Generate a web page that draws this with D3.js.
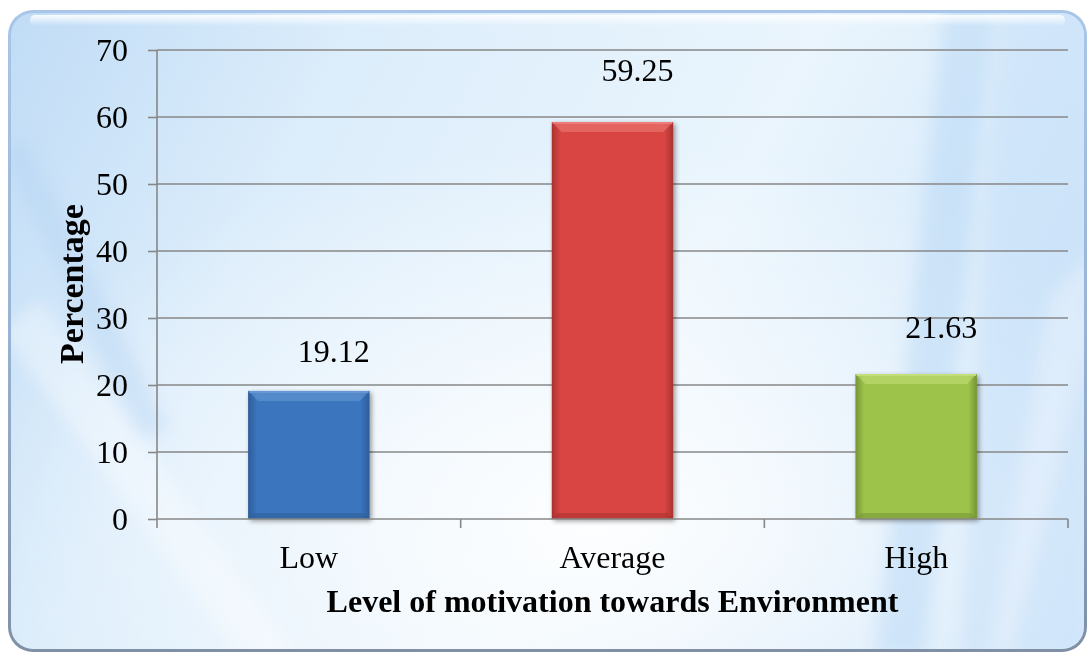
<!DOCTYPE html>
<html>
<head>
<meta charset="utf-8">
<script src="https://cdn.jsdelivr.net/npm/d3@7/dist/d3.min.js"></script>
<style>
  html, body { margin: 0; padding: 0; background: #ffffff; }
  svg { display: block; }
  text { font-family: "Liberation Serif", "Times New Roman", serif; fill: #000; }
</style>
</head>
<body>
<svg id="chart" width="1092" height="657"></svg>
<script>
// Motivation levels and their share of respondents (%)
const categories = ["Low", "Average", "High"];
const percentages = [19.12, 59.25, 21.63];
const yTicks = [0, 10, 20, 30, 40, 50, 60, 70];
const xTitle = "Level of motivation towards Environment";
const yTitle = "Percentage";

// Bar palettes: [edge, body, highlight]
const barColors = [
  ["#2d5c98", "#3a74bd", "#6a9ad6"],
  ["#a83230", "#d84442", "#ef7e7a"],
  ["#759334", "#9ec34b", "#c4e07c"]
];
// small per-label vertical nudges (px) for value labels
const labelNudge = [7, -5, 0];

const W = 1092, H = 657;
const margin = { top: 50, right: 24, bottom: 138, left: 157 };
const FS = 32;
const svg = d3.select("#chart");
const defs = svg.append("defs");

// ---------- background panel ----------
const frameG = defs.append("linearGradient").attr("id", "frame").attr("x1", 0).attr("y1", 0).attr("x2", 0).attr("y2", 1);
frameG.append("stop").attr("offset", 0).attr("stop-color", "#a9c6e8");
frameG.append("stop").attr("offset", 0.5).attr("stop-color", "#98b3d4");
frameG.append("stop").attr("offset", 1).attr("stop-color", "#7f8fa6");

const bgG = defs.append("linearGradient").attr("id", "bg").attr("x1", 0).attr("y1", 0).attr("x2", 1).attr("y2", 0.3);
bgG.append("stop").attr("offset", 0).attr("stop-color", "#c0dcf6");
bgG.append("stop").attr("offset", 0.3).attr("stop-color", "#dcedfb");
bgG.append("stop").attr("offset", 0.7).attr("stop-color", "#eaf5fd");
bgG.append("stop").attr("offset", 1).attr("stop-color", "#d3e8fa");

const glowG = defs.append("radialGradient").attr("id", "glow").attr("cx", 0.55).attr("cy", 0.8).attr("r", 0.6);
glowG.append("stop").attr("offset", 0).attr("stop-color", "#ffffff").attr("stop-opacity", 0.9);
glowG.append("stop").attr("offset", 1).attr("stop-color", "#ffffff").attr("stop-opacity", 0);

const hiG = defs.append("linearGradient").attr("id", "hi").attr("x1", 0).attr("y1", 0).attr("x2", 0).attr("y2", 1);
hiG.append("stop").attr("offset", 0).attr("stop-color", "#ffffff").attr("stop-opacity", 0.9);
hiG.append("stop").attr("offset", 1).attr("stop-color", "#ffffff").attr("stop-opacity", 0);

defs.append("clipPath").attr("id", "panelClip")
  .append("rect").attr("x", 11).attr("y", 13).attr("width", 1073).attr("height", 636).attr("rx", 22);

const blur = defs.append("filter").attr("id", "soft").attr("x", -0.2).attr("y", -0.2).attr("width", 1.4).attr("height", 1.4);
blur.append("feGaussianBlur").attr("stdDeviation", 8);

svg.append("rect").attr("x", 8).attr("y", 10).attr("width", 1079).attr("height", 642)
  .attr("rx", 25).attr("fill", "url(#frame)");
svg.append("rect").attr("x", 11).attr("y", 13).attr("width", 1073).attr("height", 636)
  .attr("rx", 22).attr("fill", "url(#bg)");

const deco = svg.append("g").attr("clip-path", "url(#panelClip)");
deco.append("rect").attr("x", 11).attr("y", 13).attr("width", 1073).attr("height", 636).attr("fill", "url(#glow)");
// soft diagonal streaks
const streaks = deco.append("g").attr("filter", "url(#soft)");
streaks.append("polygon").attr("points", "0,330 40,300 300,657 240,657").attr("fill", "#ffffff").attr("opacity", 0.35);
streaks.append("polygon").attr("points", "0,150 25,140 170,430 140,440").attr("fill", "#a9cdf2").attr("opacity", 0.3);
streaks.append("polygon").attr("points", "945,0 995,0 925,657 875,657").attr("fill", "#b0d2f5").attr("opacity", 0.4);
streaks.append("polygon").attr("points", "1000,0 1092,0 1092,657 960,657").attr("fill", "#c3def8").attr("opacity", 0.45);
streaks.append("polygon").attr("points", "1050,300 1092,250 1092,330 1010,657 990,657").attr("fill", "#ffffff").attr("opacity", 0.3);
// top gloss
deco.append("rect").attr("x", 30).attr("y", 15).attr("width", 1035).attr("height", 11).attr("rx", 5).attr("fill", "url(#hi)");

// ---------- scales ----------
const x = d3.scaleBand().domain(categories)
  .range([margin.left, W - margin.right])
  .paddingInner(0.6).paddingOuter(0.3);
const y = d3.scaleLinear().domain([0, 70]).range([H - margin.bottom, margin.top]);

const axisColor = "#878787";

// gridlines
svg.append("g").selectAll("line").data(yTicks.filter(d => d > 0)).join("line")
  .attr("x1", margin.left).attr("x2", W - margin.right)
  .attr("y1", d => y(d)).attr("y2", d => y(d))
  .attr("stroke", axisColor).attr("stroke-width", 1.6);

// y axis
const yAxis = svg.append("g").attr("transform", `translate(${margin.left},0)`)
  .call(d3.axisLeft(y).tickValues(yTicks).tickSize(9).tickPadding(20).tickFormat(d3.format("d")));
yAxis.select(".domain").remove();
yAxis.selectAll(".tick line").attr("stroke", axisColor).attr("stroke-width", 1.6);
yAxis.selectAll(".tick text").attr("font-size", FS).attr("font-family", "Liberation Serif").attr("fill", "#000");
svg.append("line").attr("x1", margin.left).attr("x2", margin.left)
  .attr("y1", y(70)).attr("y2", y(0) + 9).attr("stroke", axisColor).attr("stroke-width", 1.6);

// ---------- bars ----------
const bars = svg.append("g");
categories.forEach((c, i) => {
  const [edge, body, light] = barColors[i];
  const g = defs.append("linearGradient").attr("id", "bar" + i).attr("x1", 0).attr("x2", 1).attr("y1", 0).attr("y2", 0);
  g.append("stop").attr("offset", 0).attr("stop-color", edge);
  g.append("stop").attr("offset", 0.07).attr("stop-color", body);
  g.append("stop").attr("offset", 0.93).attr("stop-color", body);
  g.append("stop").attr("offset", 1).attr("stop-color", edge);
});

const shadow = defs.append("filter").attr("id", "shadow").attr("x", -0.2).attr("y", -0.2).attr("width", 1.4).attr("height", 1.4);
shadow.append("feGaussianBlur").attr("in", "SourceAlpha").attr("stdDeviation", 2.5);
shadow.append("feOffset").attr("dx", 2).attr("dy", 2).attr("result", "b");
shadow.append("feComponentTransfer").append("feFuncA").attr("type", "linear").attr("slope", 0.4);
const merge = shadow.append("feMerge");
merge.append("feMergeNode");
merge.append("feMergeNode").attr("in", "SourceGraphic");

const bev = 10;
bars.selectAll("g.bar").data(percentages).join("g").attr("class", "bar")
  .each(function (v, i) {
    const g = d3.select(this);
    const x0 = x(categories[i]), w = x.bandwidth();
    const y0 = y(v), y1 = y(0);
    const [edge, body, light] = barColors[i];
    g.append("rect").attr("x", x0).attr("y", y0).attr("width", w).attr("height", y1 - y0)
      .attr("fill", `url(#bar${i})`).attr("filter", "url(#shadow)");
    // top bevel
    g.append("polygon")
      .attr("points", `${x0},${y0} ${x0 + w},${y0} ${x0 + w - bev},${y0 + bev} ${x0 + bev},${y0 + bev}`)
      .attr("fill", light).attr("opacity", 0.55);
    g.append("line").attr("x1", x0 + 1).attr("x2", x0 + w - 1).attr("y1", y0 + 1).attr("y2", y0 + 1)
      .attr("stroke", light).attr("stroke-width", 2).attr("opacity", 0.9);
    // bottom bevel
    g.append("polygon")
      .attr("points", `${x0},${y1} ${x0 + w},${y1} ${x0 + w - 6},${y1 - 6} ${x0 + 6},${y1 - 6}`)
      .attr("fill", edge).attr("opacity", 0.55);
  });

// value labels
svg.append("g").selectAll("text").data(percentages).join("text")
  .attr("x", (d, i) => x(categories[i]) + x.bandwidth() / 2 + 25)
  .attr("y", (d, i) => y(d) - 36 + labelNudge[i])
  .attr("text-anchor", "middle").attr("font-size", FS)
  .text(d => d.toFixed(2));

// x axis
svg.append("line").attr("x1", margin.left).attr("x2", W - margin.right)
  .attr("y1", y(0)).attr("y2", y(0)).attr("stroke", axisColor).attr("stroke-width", 1.6);
const bounds = categories.map(c => x(c) - x.step() * x.paddingInner() / 2);
bounds[0] = margin.left;
bounds.push(W - margin.right);
svg.append("g").selectAll("line").data(bounds.slice(1)).join("line")
  .attr("x1", d => d).attr("x2", d => d)
  .attr("y1", y(0)).attr("y2", y(0) + 9)
  .attr("stroke", axisColor).attr("stroke-width", 1.6);

svg.append("g").selectAll("text").data(categories).join("text")
  .attr("x", d => x(d) + x.bandwidth() / 2)
  .attr("y", y(0) + 49)
  .attr("text-anchor", "middle").attr("font-size", FS)
  .text(d => d);

// axis titles
svg.append("text")
  .attr("x", (margin.left + W - margin.right) / 2).attr("y", y(0) + 93)
  .attr("text-anchor", "middle").attr("font-size", FS).attr("font-weight", "bold")
  .text(xTitle);
svg.append("text")
  .attr("transform", `translate(83,${284}) rotate(-90)`)
  .attr("text-anchor", "middle").attr("font-size", 34).attr("font-weight", "bold")
  .text(yTitle);
</script>
</body>
</html>
